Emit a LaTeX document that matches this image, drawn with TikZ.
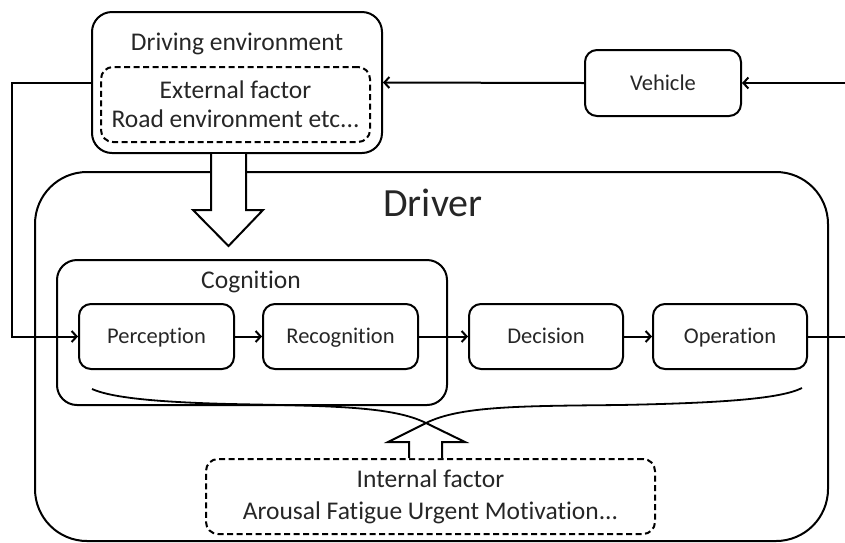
\documentclass[tikz,border=0pt]{standalone}
\usepackage{fontspec}
\setmainfont{Carlito}[Ligatures={NoCommon}]
\usetikzlibrary{arrows.meta}
\definecolor{txt}{RGB}{38,38,38}
\begin{document}
\begin{tikzpicture}[x=1pt,y=-1pt,
  box/.style={draw, line width=2pt, rounded corners=12pt, inner sep=0pt},
  dbox/.style={box, dash pattern=on 6pt off 3.5pt},
  lbl/.style={font=\fontsize{25.5}{29}\selectfont, text=txt},
  slbl/.style={font=\fontsize{22.5}{27}\selectfont, text=txt, text height=16pt, text depth=2pt},
  conn/.style={line width=2pt},
  arr/.style={conn, -{Straight Barb[length=5pt,width=11pt]}},
  blockarrow/.style={line width=2pt, fill=white, line join=miter},
  bracecurve/.style={line width=1.8pt},
]
\useasboundingbox (0,0) rectangle (845,542);

% Driver box
\node[box, rounded corners=52pt, minimum width=793pt, minimum height=369pt] (driver) at (431.5,356.5) {};
\node[font=\fontsize{40}{44}\selectfont, text=txt] (driverlbl) at (433,203) {Driver};

% Driving environment
\node[box, rounded corners=20pt, minimum width=290pt, minimum height=141pt] (env) at (237,82.5) {};
\node[lbl] (envlbl) at (237,44) {Driving environment};
\node[dbox, minimum width=269pt, minimum height=75pt, lbl, align=center] (ext) at (235.5,104.5) {External factor\\Road environment etc...};

% Vehicle
\node[box, minimum width=156pt, minimum height=66pt, slbl] (veh) at (663,83) {Vehicle};

% Cognition
\node[box, rounded corners=20pt, minimum width=390pt, minimum height=145pt] (cog) at (252,332.5) {};
\node[lbl] (coglbl) at (251,282) {Cognition};

\node[box, minimum width=155pt, minimum height=65pt, slbl] (perc) at (156.5,336.5) {Perception};
\node[box, minimum width=155pt, minimum height=65pt, slbl] (reco) at (340.5,336.5) {Recognition};
\node[box, minimum width=154pt, minimum height=65pt, slbl] (deci) at (546,336.5) {Decision};
\node[box, minimum width=154pt, minimum height=65pt, slbl] (oper) at (730,336.5) {Operation};

% Internal factor
\node[dbox, minimum width=449pt, minimum height=75pt, align=center,
      font=\fontsize{25.5}{32}\selectfont, text=txt] (intf) at (430.5,496.5) {Internal factor\\Arousal Fatigue Urgent Motivation...};

% connectors
\coordinate (lc1) at (12,82.5);
\coordinate (rc1) at (845,336.5);
\coordinate (rc2) at (845,83);
\draw[arr] (env.west) -- (lc1) |- (perc.west);
\draw[arr] (perc.east) -- (reco.west);
\draw[arr] (reco.east) -- (deci.west);
\draw[arr] (deci.east) -- (oper.west);
\draw[conn] (oper.east) -- (rc1);
\draw[arr] (rc2) -- (veh.east);
\draw[arr] (veh.west) -- (env.east);

% block arrow down
\draw[blockarrow] (211,154) -- (211,210) -- (193,210) -- (228.5,246) -- (263,210) -- (246,210) -- (246,154);

% brace with up arrow
\coordinate (cross) at (426,423);
\draw[bracecurve] (cross) .. controls (392,406) and (330,406) .. (230,404) .. controls (150,402) and (110,397) .. (92,389);
\draw[bracecurve] (cross) .. controls (460,406) and (520,406) .. (620,405) .. controls (720,403) and (780,399) .. (802,388);
\draw[blockarrow] (409,458) -- (409,442) -- (388,442) -- (cross) -- (465,442) -- (442,442) -- (442,458);
\end{tikzpicture}
\end{document}
